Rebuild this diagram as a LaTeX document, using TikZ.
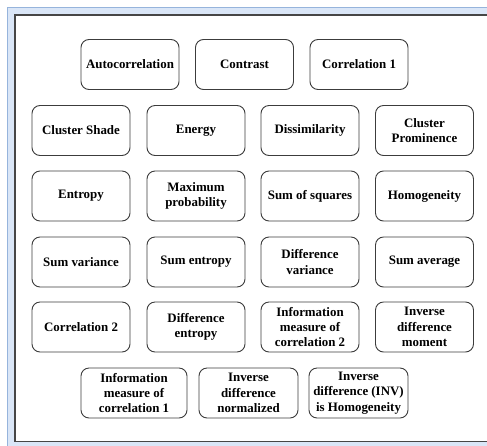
\documentclass[tikz,border=0pt]{standalone}
\usepackage{fontspec}
\setmainfont{Liberation Serif}
\definecolor{framegray}{RGB}{70, 70, 70}
\definecolor{boxgray}{RGB}{60, 60, 60}
\definecolor{panelblue}{RGB}{218, 230, 247}
\definecolor{paneledge}{RGB}{150, 180, 220}
\usetikzlibrary{positioning}

\begin{document}
\begin{tikzpicture}[x=1pt, y=-1pt,
  feat/.style={draw=boxgray, line width=0.9pt, rounded corners=8pt, align=center,
    minimum width=98pt, minimum height=50pt, inner sep=2pt,
    font=\bfseries\fontsize{12.9}{15.3}\selectfont}]
  \useasboundingbox (0,0) rectangle (487,445);
  \clip (0,0) rectangle (487,445);
  % outer panel and inner frame
  \fill[panelblue, draw=paneledge, line width=0.8pt] (7,7) rectangle (500,460);
  \draw[framegray, fill=white, line width=1.2pt] (15,15) rectangle (500,441.5);

  % row 1
  \node[feat] (autocorr) at (130, 64.5) {Autocorrelation};
  \node[feat] (contrast) at (244.5, 64.5) {Contrast};
  \node[feat] (corrone) at (359, 64.5) {Correlation 1};
  % row 2
  \node[feat] (clshade) at (81, 130.5) {Cluster Shade};
  \node[feat] (energy) at (196, 130.5) {Energy};
  \node[feat] (dissim) at (310, 130.5) {Dissimilarity};
  \node[feat] (clprom) at (424.5, 130.5) {Cluster\\Prominence};
  % row 3
  \node[feat] (entropy) at (81, 196) {Entropy};
  \node[feat] (maxprob) at (196, 196) {Maximum\\probability};
  \node[feat] (sumsq) at (310, 196) {Sum of squares};
  \node[feat] (homog) at (424.5, 196) {Homogeneity};
  % row 4
  \node[feat] (sumvar) at (81, 262) {Sum variance};
  \node[feat] (sument) at (196, 262) {Sum entropy};
  \node[feat] (diffvar) at (310, 262) {Difference\\variance};
  \node[feat] (sumavg) at (424.5, 262) {Sum average};
  % row 5
  \node[feat] (corrtwo) at (81, 327) {Correlation 2};
  \node[feat] (diffent) at (196, 327) {Difference\\entropy};
  \node[feat] (infotwo) at (310, 327) {Information\\measure of\\correlation 2};
  \node[feat] (invmom) at (424.5, 327) {Inverse\\difference\\moment};
  % row 6
  \node[feat, minimum width=106pt] (infoone) at (134, 393) {Information\\measure of\\correlation 1};
  \node[feat, minimum width=99pt] (invnorm) at (248.5, 393) {Inverse\\difference\\normalized};
  \node[feat, minimum width=99pt] (invhom) at (358.5, 393) {Inverse\\difference (INV)\\is Homogeneity};
\end{tikzpicture}
\end{document}
